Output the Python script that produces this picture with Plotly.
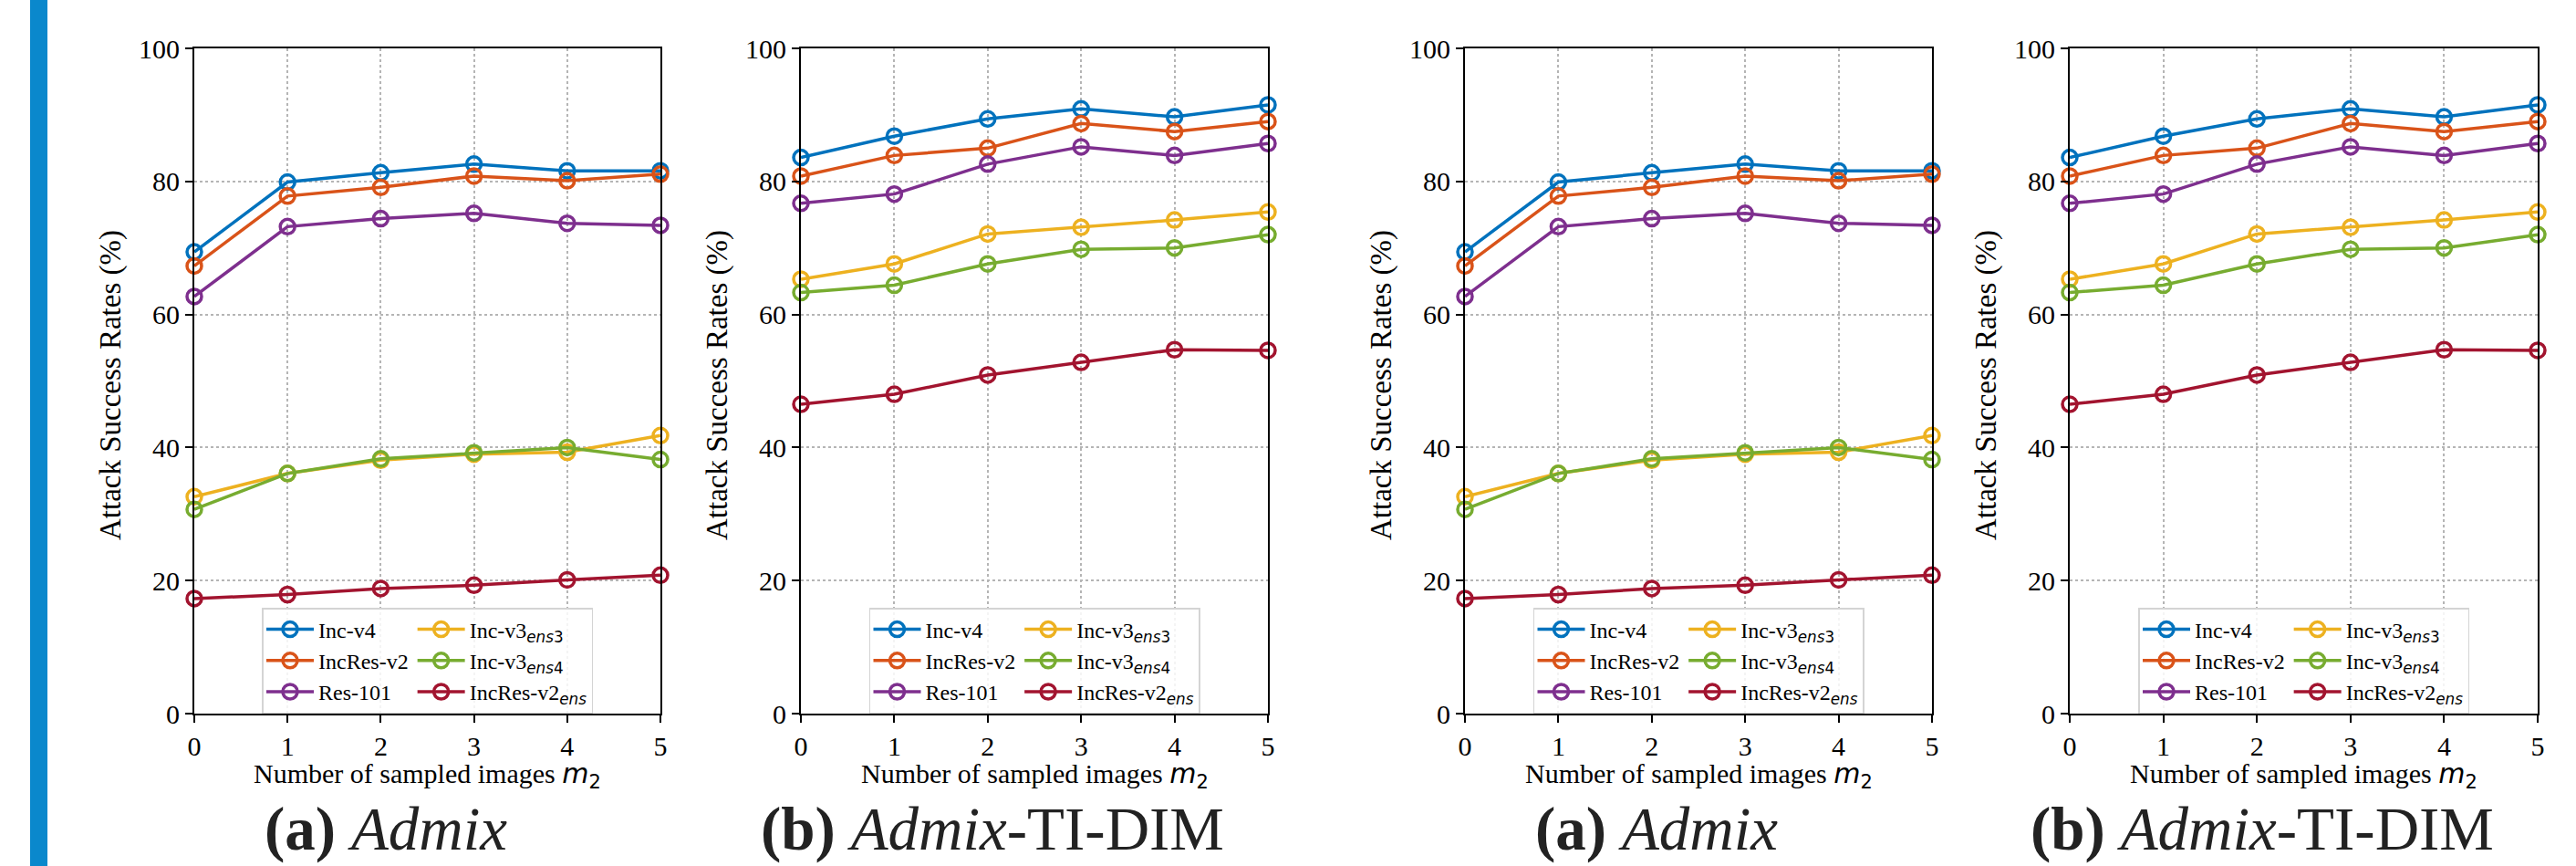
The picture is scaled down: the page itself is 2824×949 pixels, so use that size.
import plotly.graph_objects as go

# ---------------- data ----------------
m2 = [0, 1, 2, 3, 4, 5]
models = ["Inc-v4", "IncRes-v2", "Res-101", "Inc-v3ens3", "Inc-v3ens4", "IncRes-v2ens"]

admix_incv4 = [69.4, 79.9, 81.3, 82.6, 81.6, 81.6]
admix_incresv2 = [67.3, 77.8, 79.1, 80.8, 80.1, 81.1]
admix_res101 = [62.7, 73.2, 74.4, 75.2, 73.7, 73.4]
admix_incv3ens3 = [32.6, 36.1, 38.1, 39.0, 39.3, 41.8]
admix_incv3ens4 = [30.7, 36.1, 38.3, 39.2, 40.0, 38.2]
admix_incresv2ens = [17.3, 17.9, 18.8, 19.3, 20.1, 20.8]

tidim_incv4 = [83.6, 86.8, 89.4, 90.9, 89.7, 91.5]
tidim_incresv2 = [80.8, 83.9, 85.0, 88.7, 87.5, 89.0]
tidim_res101 = [76.7, 78.1, 82.6, 85.2, 83.9, 85.7]
tidim_incv3ens3 = [65.3, 67.6, 72.1, 73.1, 74.2, 75.4]
tidim_incv3ens4 = [63.3, 64.4, 67.6, 69.8, 70.0, 72.0]
tidim_incresv2ens = [46.5, 48.0, 50.9, 52.8, 54.7, 54.6]

y_ticks = [0, 20, 40, 60, 80, 100]
x_ticks = [0, 1, 2, 3, 4, 5]

admix = [admix_incv4, admix_incresv2, admix_res101, admix_incv3ens3, admix_incv3ens4, admix_incresv2ens]
tidim = [tidim_incv4, tidim_incresv2, tidim_res101, tidim_incv3ens3, tidim_incv3ens4, tidim_incresv2ens]

# ---------------- style ----------------
colors = ["#0072BD", "#D95319", "#7E2F8E", "#EDB120", "#77AC30", "#A2142F"]
MATH = "font-family:'DejaVu Sans'"
legend_names = [
    "Inc-v4",
    "IncRes-v2",
    "Res-101",
    f"Inc-v3<sub><span style=\"{MATH}\"><i>ens</i>3</span></sub>",
    f"Inc-v3<sub><span style=\"{MATH}\"><i>ens</i>4</span></sub>",
    f"IncRes-v2<sub><span style=\"{MATH}\"><i>ens</i></span></sub>",
]
SERIF = "Liberation Serif"

W, H = 2824, 949
L, R, T, B = 213, 2782, 53, 782
PW, PH = R - L, B - T


def px_x(p):
    return (p - L) / PW


def px_y(p):
    return (B - p) / PH


panels = [
    (213, 724, admix, "<b>(a)</b> <i>Admix</i>"),
    (878, 1390, tidim, "<b>(b)</b> <i>Admix</i>-TI-DIM"),
    (1606, 2118, admix, "<b>(a)</b> <i>Admix</i>"),
    (2269, 2782, tidim, "<b>(b)</b> <i>Admix</i>-TI-DIM"),
]

fig = go.Figure()
annotations = []
layout_extra = {}

for k, (x0, x1, data, caption) in enumerate(panels):
    idx = "" if k == 0 else str(k + 1)
    xa, ya = "x" + idx, "y" + idx
    leg = "legend" + idx
    for i, (vals, col, nm) in enumerate(zip(data, colors, legend_names)):
        fig.add_trace(go.Scatter(
            x=m2, y=vals, name=nm, mode="lines+markers",
            xaxis=xa, yaxis=ya, legend=leg,
            legendgroup=f"p{k}g{i // 3}",
            line=dict(color=col, width=3.5),
            marker=dict(symbol="circle-open", size=16, color=col, line=dict(width=3.5, color=col)),
            cliponaxis=False,
        ))
    axis_common = dict(
        showline=True, linecolor="black", linewidth=2, mirror=True,
        ticks="outside", ticklen=8, tickwidth=2, tickcolor="black",
        showgrid=True, gridcolor="#b5b5b5", griddash="dot", gridwidth=1.5,
        zeroline=False,
        tickfont=dict(family=SERIF, size=30, color="black"),
    )
    layout_extra["xaxis" + idx] = dict(
        axis_common, domain=[px_x(x0), px_x(x1)], range=[0, 5],
        tickvals=x_ticks, anchor=ya,
    )
    layout_extra["yaxis" + idx] = dict(
        axis_common, domain=[0, 1], range=[0, 100],
        tickvals=y_ticks, anchor=xa,
    )
    cx = (x0 + x1) / 2
    layout_extra[leg] = dict(
        x=px_x(cx), xanchor="center", y=0, yanchor="bottom",
        orientation="h", traceorder="grouped", tracegroupgap=50,
        itemwidth=52,
        bgcolor="rgba(255,255,255,0.85)", bordercolor="#d4d4d4", borderwidth=1.5,
        font=dict(family=SERIF, size=24, color="black"),
        itemclick=False,
    )
    annotations.append(dict(
        text="Attack Success Rates (%)", x=px_x(x0 - 92), y=px_y(422),
        xref="paper", yref="paper", textangle=-90, showarrow=False,
        xanchor="center", yanchor="middle",
        font=dict(family=SERIF, size=33, color="black"),
    ))
    annotations.append(dict(
        text=f"Number of sampled images <span style=\"{MATH}\"><i>m</i><sub>2</sub></span>",
        x=px_x(cx), y=px_y(849), xref="paper", yref="paper", showarrow=False,
        xanchor="center", yanchor="middle",
        font=dict(family=SERIF, size=30, color="black"),
    ))
    annotations.append(dict(
        text=caption, x=px_x(cx - 46), y=px_y(948), xref="paper", yref="paper",
        showarrow=False, xanchor="center", yanchor="bottom",
        font=dict(family=SERIF, size=67, color="#222222"),
    ))

fig.update_layout(
    width=W, height=H,
    margin=dict(l=L, r=W - R, t=T, b=H - B, autoexpand=False),
    paper_bgcolor="white", plot_bgcolor="white",
    showlegend=True,
    annotations=annotations,
    shapes=[dict(type="rect", xref="paper", yref="paper",
                 x0=px_x(33), x1=px_x(52), y0=px_y(H + 5), y1=px_y(-5),
                 fillcolor="#0A88CC", line=dict(width=0), layer="below")],
    **layout_extra,
)

fig.write_html("out.html", config={"displayModeBar": False},
               post_script="document.body.style.margin='0px';")
